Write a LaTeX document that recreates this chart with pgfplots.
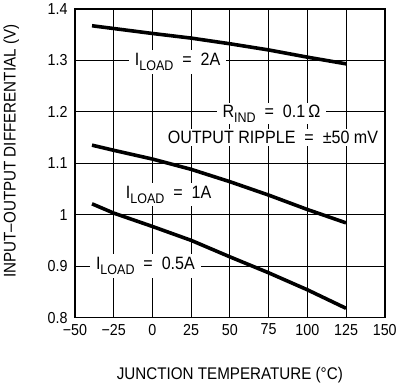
\documentclass[border=0pt]{standalone}
\usepackage{fontspec}
\setmainfont{Liberation Sans}[FakeStretch=0.9]
\usepackage{pgfplots}
\pgfplotsset{compat=1.18}
\newcommand{\sub}[1]{\raisebox{-0.28em}{\fontsize{14}{14}\selectfont #1}}
\newcommand{\lab}{\fontsize{18}{18}\selectfont}
\begin{document}
\begin{tikzpicture}
\begin{axis}[
  scale only axis, width=311bp, height=310bp,
  xmin=-50, xmax=150, ymin=0.8, ymax=1.4,
  xtick={-50,-25,0,25,50,75,100,125,150},
  ytick={0.8,0.9,1,1.1,1.2,1.3,1.4},
  xticklabels={−50,−25,0,25,50,75,100,125,150},
  yticklabels={0.8,0.9,1,1.1,1.2,1.3,1.4},
  grid=major, major grid style={black, line width=0.8bp},
  major tick length=0pt,
  axis line style={line width=1.8bp},
  tick label style={font=\fontsize{16}{16}\selectfont},
  xticklabel style={yshift=-3bp},
  yticklabel style={xshift=-4bp},
  xlabel={JUNCTION TEMPERATURE (°C)},
  ylabel={INPUT–OUTPUT DIFFERENTIAL (V)},
  every axis x label/.style={at={(axis description cs:0.5,-0.185)}, anchor=center, font=\fontsize{17}{17}\selectfont},
  every axis y label/.style={at={(axis description cs:-0.206,0.539)}, rotate=90, anchor=center, font=\fontsize{17}{17}\selectfont},
]
\addplot[black, line width=3.6bp, no marks] coordinates {
  (-39,1.367) (0,1.352) (25,1.343) (50,1.332) (75,1.320) (100,1.306) (125,1.293)};
\addplot[black, line width=3.6bp, no marks] coordinates {
  (-39,1.135) (-25,1.125) (0,1.108) (25,1.088) (50,1.064) (75,1.038) (100,1.010) (125,0.984)};
\addplot[black, line width=3.6bp, no marks] coordinates {
  (-39,1.021) (-25,1.003) (0,0.977) (25,0.950) (50,0.918) (75,0.887) (100,0.854) (125,0.818)};
\node[anchor=base west, fill=white, inner xsep=6bp, inner ysep=3bp, font=\lab] at (axis cs:-15.3,1.290) {I\sub{LOAD}\ \ =\ \ 2A};
\node[anchor=base west, fill=white, inner xsep=4bp, inner ysep=2bp, font=\lab] at (axis cs:7.2,1.138) {OUTPUT RIPPLE\ \ =\ \ ±50 mV};
\node[anchor=base west, fill=white, inner xsep=6bp, inner ysep=2bp, font=\lab] at (axis cs:41.3,1.189) {R\sub{IND}\ \ =\ \ 0.1\,Ω};
\node[anchor=base west, fill=white, inner xsep=4bp, inner ysep=3bp, font=\lab] at (axis cs:-19.8,1.032) {I\sub{LOAD}\ \ =\ \ 1A};
\node[anchor=base west, fill=white, inner xsep=6bp, inner ysep=3bp, font=\lab] at (axis cs:-40.4,0.893) {I\sub{LOAD}\ \ =\ \ 0.5A};
\end{axis}
\end{tikzpicture}
\end{document}
